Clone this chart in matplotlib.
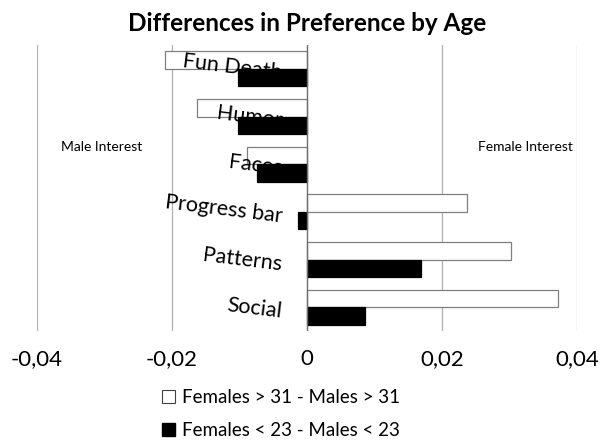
import matplotlib.pyplot as plt
from matplotlib.patches import Patch
from matplotlib.ticker import FuncFormatter
import numpy as np

plt.rcParams['font.family'] = ['Lato', 'DejaVu Sans']

# preference differences per feature (female minus male)
categories = ["Fun Death", "Humor", "Faces", "Progress bar", "Patterns", "Social"]
older = [-0.0210, -0.0163, -0.0089, 0.0237, 0.0302, 0.0372]
younger = [-0.0102, -0.0102, -0.0074, -0.0013, 0.0169, 0.0086]
series_labels = ["Females > 31 - Males > 31", "Females < 23 - Males < 23"]
xticks = [-0.04, -0.02, 0, 0.02, 0.04]

fig = plt.figure(figsize=(6, 4.41), dpi=100)
ax = fig.add_axes([37 / 600, 1 - 331 / 441, 540 / 600, 286 / 441])

y = np.arange(len(categories))
h = 0.37
ax.barh(y - h / 2, older, height=h, color="white", edgecolor="#7f7f7f", linewidth=0.9, zorder=3)
ax.barh(y + h / 2, younger, height=h, color="black", edgecolor="black", linewidth=0.9, zorder=3)

ax.set_xlim(-0.04, 0.04)
ax.set_ylim(len(categories) - 0.5, -0.5)
ax.set_xticks(xticks)
ax.xaxis.set_major_formatter(FuncFormatter(lambda v, p: "0" if v == 0 else f"{v:.2f}".replace(".", ",")))
ax.tick_params(axis="x", length=0, labelsize=16, pad=13)
ax.set_yticks([])
for s in ax.spines.values():
    s.set_visible(False)

for v in xticks:
    if v != 0:
        ax.axvline(v, color="#b0b0b0", linewidth=0.9, zorder=1)
ax.axvline(0, color="#6f6f6f", linewidth=1.0, zorder=4)

# category names sit at the zero line, slightly tilted
for i, name in enumerate(categories):
    ax.text(-0.0037, i + 0.1, name, ha="right", va="center", rotation=-7,
            rotation_mode="anchor", fontsize=15.5, zorder=5)

ax.text(-0.0365, 1.65, "Male Interest", fontsize=10, va="center")
ax.text(0.0253, 1.65, "Female Interest", fontsize=10, va="center")

ax.set_title("Differences in Preference by Age", fontsize=17.5, fontweight="bold", pad=10)

handles = [Patch(facecolor="white", edgecolor="#404040", linewidth=0.8),
           Patch(facecolor="black", edgecolor="black")]
fig.legend(handles, series_labels, loc="upper left", bbox_to_anchor=(145 / 600, 1 - 372 / 441),
           frameon=False, fontsize=13.5, handlelength=0.7, handleheight=0.7,
           handletextpad=0.35, labelspacing=0.88)

fig.savefig("out.png", dpi=100)
